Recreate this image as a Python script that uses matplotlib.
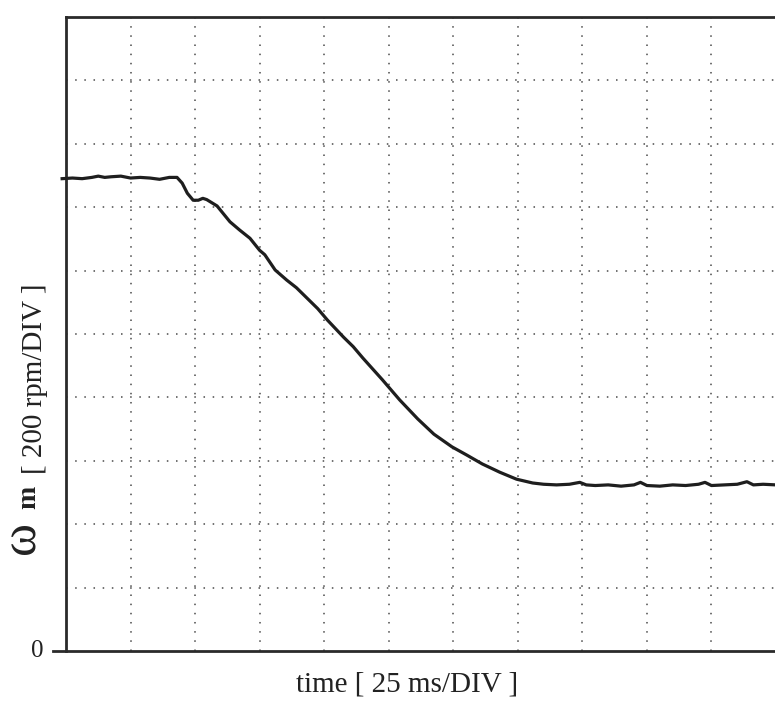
import matplotlib.pyplot as plt

# Speed trace, in divisions (x: 25 ms/DIV, y: 200 rpm/DIV)
t = [-0.06, 0.10, 0.25, 0.40, 0.50, 0.60, 0.70, 0.85, 1.00, 1.15, 1.30, 1.45, 1.60, 1.72,
     1.80, 1.88, 1.97, 2.05, 2.12, 2.18, 2.26, 2.34, 2.42, 2.54, 2.69, 2.85, 3.00, 3.08,
     3.24, 3.42, 3.57, 3.73, 3.90, 4.05, 4.30, 4.45, 4.60, 4.90, 5.17, 5.45, 5.70, 5.98,
     6.21, 6.45, 6.72, 6.98, 7.23, 7.40, 7.60, 7.80, 7.96, 8.06, 8.20, 8.40, 8.60, 8.80,
     8.90, 9.00, 9.20, 9.40, 9.60, 9.80, 9.90, 10.00, 10.20, 10.40, 10.55, 10.65, 10.80, 11.00]
w = [7.45, 7.46, 7.45, 7.47, 7.49, 7.47, 7.48, 7.49, 7.46, 7.47, 7.46, 7.44, 7.47, 7.47,
     7.38, 7.22, 7.11, 7.11, 7.14, 7.12, 7.07, 7.02, 6.92, 6.77, 6.64, 6.51, 6.32, 6.25,
     6.01, 5.85, 5.73, 5.57, 5.40, 5.22, 4.95, 4.80, 4.62, 4.28, 3.96, 3.66, 3.42, 3.22,
     3.09, 2.95, 2.82, 2.71, 2.65, 2.63, 2.62, 2.63, 2.66, 2.62, 2.61, 2.62, 2.60, 2.62,
     2.66, 2.61, 2.60, 2.62, 2.61, 2.63, 2.66, 2.61, 2.62, 2.63, 2.67, 2.62, 2.63, 2.62]

x_divs = 11
y_divs = 10

plt.rcParams['font.family'] = 'Liberation Serif'

fig = plt.figure(figsize=(7.75, 7.01), dpi=100)
ax = fig.add_axes([66 / 775, 50 / 701, 710 / 775, 634 / 701])

ax.set_xlim(0, x_divs)
ax.set_ylim(0, y_divs)

# dotted graticule
for i in range(1, x_divs):
    ax.axvline(i, color='#4a4a4a', lw=1.1, ls=(0, (1, 5)))
for j in range(1, y_divs):
    ax.axhline(j, color='#4a4a4a', lw=1.1, ls=(0, (1, 5)))

ax.plot(t, w, color='#1e1e1e', lw=2.3, clip_on=False, zorder=3)

ax.set_xticks([])
ax.set_yticks([])
for s in ['left', 'top', 'bottom']:
    ax.spines[s].set_linewidth(2.0)
    ax.spines[s].set_color('#2a2a2a')
ax.spines['right'].set_visible(False)
ax.spines['bottom'].set_visible(False)
ax.plot([-0.018, 1.0], [0, 0], transform=ax.transAxes, color='#2a2a2a', lw=2.0, clip_on=False)

ax.text(-0.04, 0.0, '0', transform=ax.transAxes, ha='center', va='center', fontsize=18, color='#222222')

fig.text(407 / 775, 1 - 685 / 701, 'time [ 25 ms/DIV ]', ha='center', va='center',
         fontsize=21, color='#222222')

# y label: large omega with bold subscript, then the scale in brackets
fig.text(22 / 775, 1 - 537 / 701, '\u03c9', rotation=90, ha='center', va='center',
         fontsize=36, color='#222222')
fig.text(29 / 775, 1 - 497 / 701, 'm', rotation=90, ha='center', va='center',
         fontsize=20, fontweight='bold', color='#222222')
fig.text(35 / 775, 1 - 379 / 701, '[ 200 rpm/DIV ]', rotation=90, ha='center', va='center',
         fontsize=21, color='#222222')

fig.savefig('out.png', dpi=100)
